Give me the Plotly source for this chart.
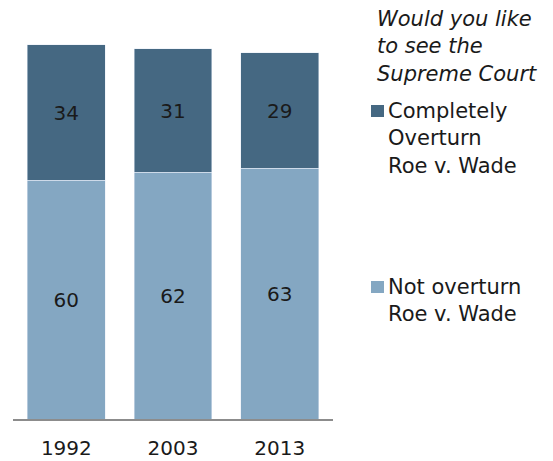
import plotly.graph_objects as go

years = ["1992", "2003", "2013"]
not_overturn = [60, 62, 63]
overturn = [34, 31, 29]
legend_title = "Would you like<br>to see the<br>Supreme Court"
label_overturn = "Completely<br>Overturn<br>Roe v. Wade"
label_not = "Not overturn<br>Roe v. Wade"

DARK = "#456882"
LIGHT = "#84a7c2"
FONT = "DejaVu Sans"
W, H = 553, 461
L, R, T, B = 13, 220, 21, 42

def px_x(p):
    return (p - L) / (W - L - R)

def px_y(p):
    return 1 - (p - T) / (H - T - B)

fig = go.Figure()
fig.add_trace(go.Bar(x=years, y=not_overturn, name="Not overturn", marker_color=LIGHT,
                     text=not_overturn, textposition="inside", insidetextanchor="middle",
                     textfont=dict(family=FONT, size=20, color="#1a1a1a")))
fig.add_trace(go.Bar(x=years, y=overturn, name="Completely Overturn", marker_color=DARK,
                     text=overturn, textposition="inside", insidetextanchor="middle",
                     textfont=dict(family=FONT, size=20, color="#1a1a1a")))

shapes = []
for y0, col in [(105, DARK), (281, LIGHT)]:
    shapes.append(dict(type="rect", xref="paper", yref="paper",
                       x0=px_x(371), x1=px_x(384), y0=px_y(y0 + 12), y1=px_y(y0),
                       fillcolor=col, line=dict(width=0)))

annotations = [
    dict(text="<i>" + legend_title + "</i>", xref="paper", yref="paper",
         x=px_x(375), y=px_y(5), xanchor="left", yanchor="top", showarrow=False, align="left",
         font=dict(family=FONT, size=21, color="#1a1a1a")),
    dict(text=label_overturn, xref="paper", yref="paper",
         x=px_x(386), y=px_y(97), xanchor="left", yanchor="top", showarrow=False, align="left",
         font=dict(family=FONT, size=21, color="#1a1a1a")),
    dict(text=label_not, xref="paper", yref="paper",
         x=px_x(386), y=px_y(273), xanchor="left", yanchor="top", showarrow=False, align="left",
         font=dict(family=FONT, size=21, color="#1a1a1a")),
]

fig.update_layout(
    barmode="stack", bargap=0.27, width=W, height=H,
    margin=dict(l=L, r=R, t=T, b=B, pad=0, autoexpand=False),
    paper_bgcolor="white", plot_bgcolor="white", showlegend=False,
    shapes=shapes, annotations=annotations,
    xaxis=dict(showline=True, linecolor="#8c8c8c", linewidth=2, ticks="",
               tickfont=dict(family=FONT, size=20, color="#1a1a1a"),
               ticklabelstandoff=10, showgrid=False, automargin=False),
    yaxis=dict(range=[0, 100], visible=False, showgrid=False, automargin=False),
)
fig.write_html("out.html")
